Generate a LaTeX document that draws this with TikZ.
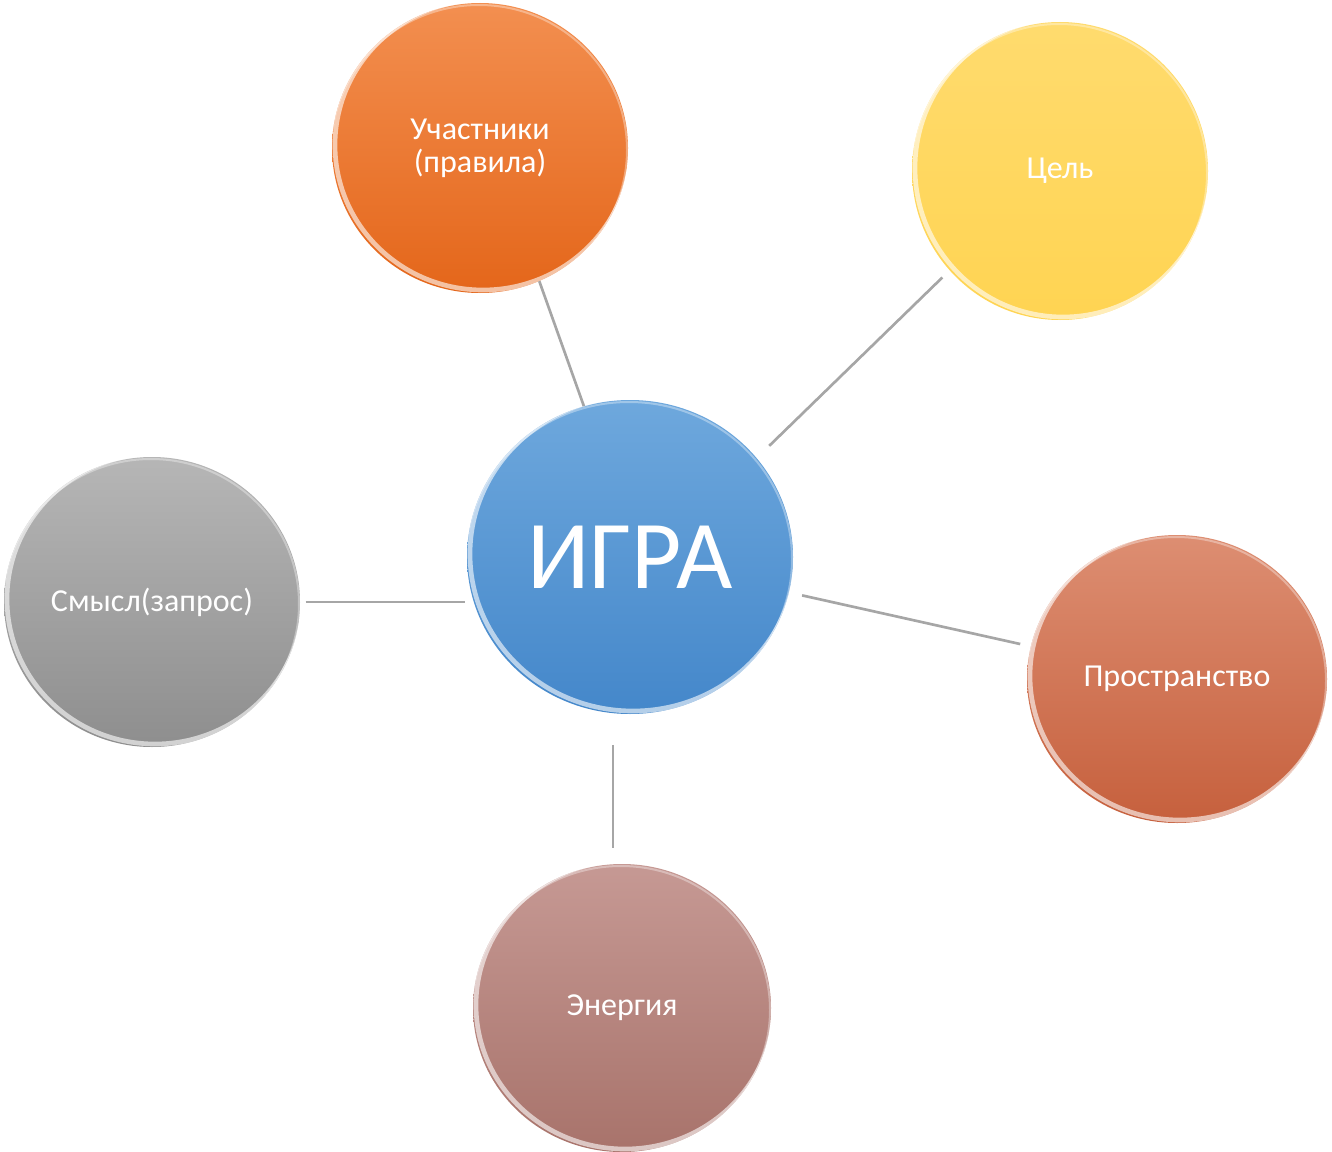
\documentclass[tikz,border=0pt]{standalone}
\usepackage{fontspec}
\setmainfont{Carlito}
\usetikzlibrary{shapes.geometric,calc}
\definecolor{uchT}{HTML}{F38F50}\definecolor{uchB}{HTML}{E4661A}
\definecolor{tseT}{HTML}{FFDB6E}\definecolor{tseB}{HTML}{FFD452}
\definecolor{igrT}{HTML}{6EA8DD}\definecolor{igrB}{HTML}{4487CA}
\definecolor{smyT}{HTML}{B6B6B6}\definecolor{smyB}{HTML}{8E8E8E}
\definecolor{proT}{HTML}{DD8E72}\definecolor{proB}{HTML}{C6603D}
\definecolor{eneT}{HTML}{C69994}\definecolor{eneB}{HTML}{A8736B}
\definecolor{conncol}{HTML}{A6A6A6}
\tikzset{
  bub/.style={ellipse, inner sep=0pt, text=white, align=center,
    font=\fontsize{24}{25}\selectfont},
  conn/.style={draw=conncol, line width=2pt},
}
\newcommand{\bevelring}[3]{%
  \begin{scope}
    \clip (#1.center) ellipse [x radius=#2, y radius=#3];
    \draw[white, opacity=0.6, line width=3.5pt] ([shift={(3,-3)}]#1.center) ellipse [x radius=#2, y radius=#3];
    \draw[white, opacity=0.35, line width=1.5pt] ([shift={(-1,2)}]#1.center) ellipse [x radius=#2, y radius=#3];
  \end{scope}}
\begin{document}
\begin{tikzpicture}[x=0.75pt,y=-0.75pt]
\useasboundingbox (0,0) rectangle (1332,1152);
% nodes
\node[bub, top color=uchT, bottom color=uchB, minimum width=222pt, minimum height=217.5pt] (uch) at (480,148) {Участники\\(правила)};
\node[bub, top color=tseT, bottom color=tseB, minimum width=222pt, minimum height=223.5pt] (tse) at (1060,171) {Цель};
\node[bub, top color=igrT, bottom color=igrB, minimum width=244.5pt, minimum height=235.5pt, font=\fontsize{73}{80}\selectfont] (igr) at (630,557) {ИГРА};
\node[bub, top color=smyT, bottom color=smyB, minimum width=222pt, minimum height=217.5pt] (smy) at (152,602) {Смысл(запрос)};
\node[bub, top color=proT, bottom color=proB, minimum width=225pt, minimum height=216pt] (pro) at (1177,679) {Пространство};
\node[bub, top color=eneT, bottom color=eneB, minimum width=223.5pt, minimum height=216pt] (ene) at (622,1008) {Энергия};
% bevels
\bevelring{uch}{148}{145}
\bevelring{tse}{148}{149}
\bevelring{igr}{163}{157}
\bevelring{smy}{148}{145}
\bevelring{pro}{150}{144}
\bevelring{ene}{149}{144}
% connectors
\draw[conn] (igr.107) -- (uch.-66);
\draw[conn, shorten <=13pt, shorten >=7.5pt] (igr.38.5) -- (tse.222.7);
\draw[conn, shorten <=4pt, shorten >=1pt] (smy.east) -- (smy.east -| igr.west);
\draw[conn, shorten <=10pt, shorten >=8pt] (igr) -- (pro);
\draw[conn, shorten <=23pt, shorten >=12pt] ([xshift=-12.75pt]igr.south) -- ([xshift=-6.75pt]ene.north);
\end{tikzpicture}
\end{document}
